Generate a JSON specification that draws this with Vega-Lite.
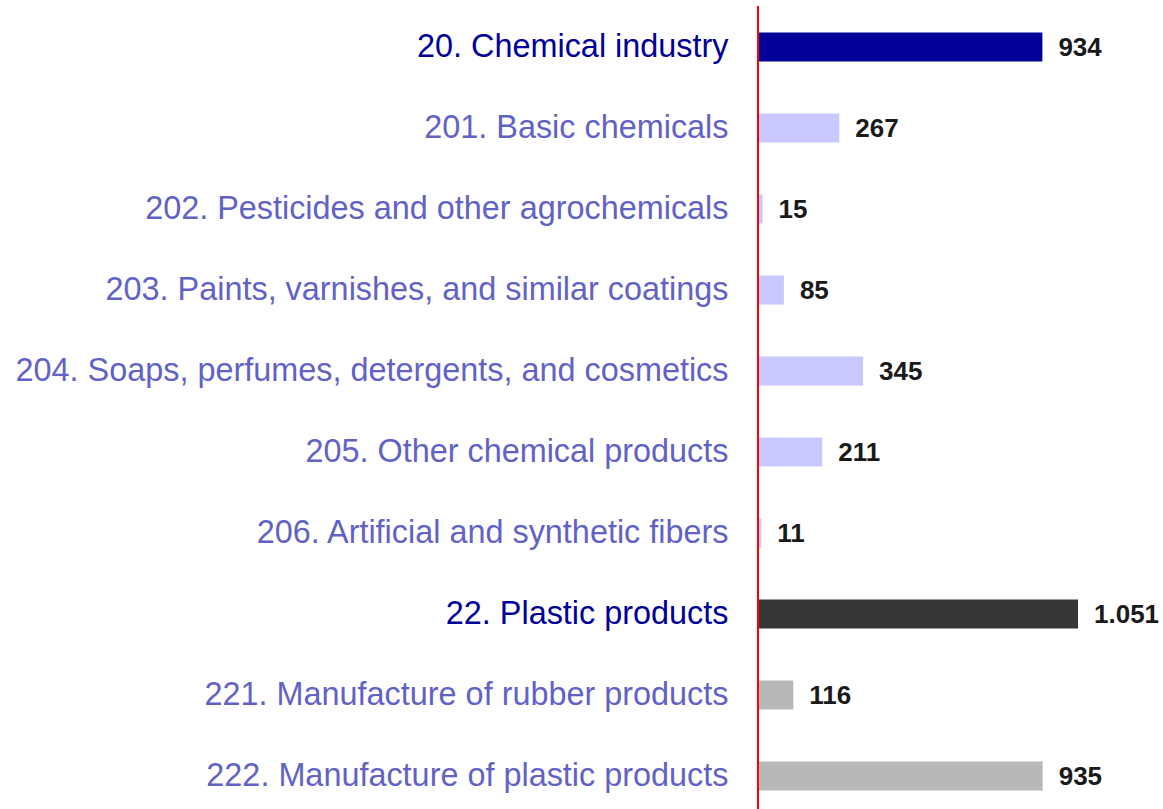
{
  "$schema": "https://vega.github.io/schema/vega-lite/v6.json",
  "width": 320,
  "height": 810,
  "autosize": {"type": "none"},
  "padding": {"left": 758, "top": 6.5, "right": 85, "bottom": 0},
  "background": "white",
  "config": {
    "view": {"stroke": null},
    "locale": {"number": {"decimal": ",", "thousands": ".", "grouping": [3], "currency": ["", ""]}}
  },
  "data": {
    "values": [
      {"sector": "20. Chemical industry", "value": 934, "group": "chem"},
      {"sector": "201. Basic chemicals", "value": 267, "group": "chemsub"},
      {"sector": "202. Pesticides and other agrochemicals", "value": 15, "group": "chemsub"},
      {"sector": "203. Paints, varnishes, and similar coatings", "value": 85, "group": "chemsub"},
      {"sector": "204. Soaps, perfumes, detergents, and cosmetics", "value": 345, "group": "chemsub"},
      {"sector": "205. Other chemical products", "value": 211, "group": "chemsub"},
      {"sector": "206. Artificial and synthetic fibers", "value": 11, "group": "chemsub"},
      {"sector": "22. Plastic products", "value": 1051, "group": "plast"},
      {"sector": "221. Manufacture of rubber products", "value": 116, "group": "plastsub"},
      {"sector": "222. Manufacture of plastic products", "value": 935, "group": "plastsub"}
    ]
  },
  "layer": [
    {
      "mark": {"type": "bar"},
      "encoding": {
        "y": {
          "field": "sector",
          "type": "nominal",
          "sort": null,
          "scale": {"paddingInner": 0.64, "paddingOuter": 0.32},
          "axis": {
            "title": null,
            "domain": false,
            "ticks": false,
            "labelPadding": 30,
            "labelLimit": 800,
            "labelFont": "Liberation Sans",
            "labelFontSize": 32.4,
            "labelColor": {
              "condition": {"test": "indexof(['20. Chemical industry','22. Plastic products'], datum.value) >= 0", "value": "#000099"},
              "value": "#6262c6"
            }
          }
        },
        "x": {"field": "value", "type": "quantitative", "scale": {"domain": [0, 1051], "nice": false}, "axis": null},
        "color": {
          "field": "group",
          "type": "nominal",
          "scale": {"domain": ["chem", "chemsub", "plast", "plastsub"], "range": ["#000099", "#c8c8ff", "#363636", "#b8b8b8"]},
          "legend": null
        }
      }
    },
    {
      "mark": {"type": "text", "align": "left", "baseline": "middle", "dx": 16, "dy": 1, "font": "Liberation Sans", "fontWeight": "bold", "fontSize": 26, "color": "#1a1a1a"},
      "encoding": {
        "y": {"field": "sector", "type": "nominal", "sort": null},
        "x": {"field": "value", "type": "quantitative"},
        "text": {"field": "value", "type": "quantitative", "format": ",d"}
      }
    },
    {
      "mark": {"type": "rule", "color": "#ff0000", "strokeWidth": 2},
      "encoding": {"x": {"datum": 0}}
    }
  ]
}
